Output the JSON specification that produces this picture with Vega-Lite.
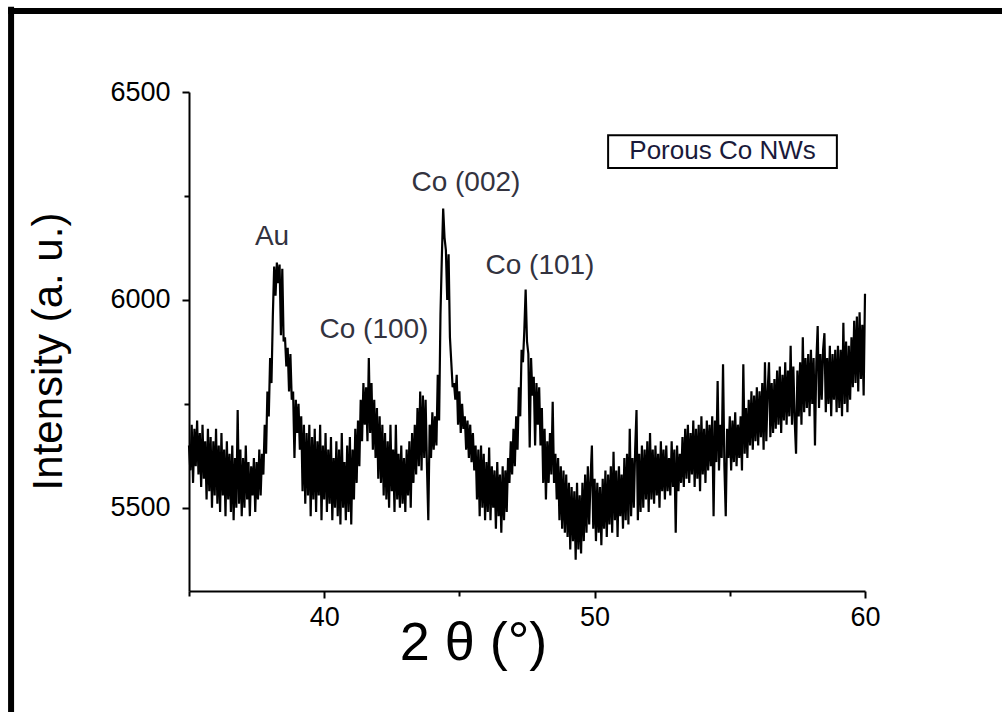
{
"$schema": "https://vega.github.io/schema/vega-lite/v6.json",
"width": 676, "height": 499,
"autosize": {"type": "none"},
"padding": {"left": 189, "top": 92, "right": 137, "bottom": 121},
"background": "white",
"config": {"view": {"stroke": null}, "font": "Liberation Sans"},
"datasets": {
"xrd": [
{"x":35.00,"y":5650},{"x":35.05,"y":5590},{"x":35.10,"y":5700},{"x":35.15,"y":5560},{"x":35.20,"y":5690},{"x":35.25,"y":5600},{"x":35.30,"y":5710},{"x":35.35,"y":5580},{"x":35.40,"y":5680},{"x":35.45,"y":5550},{"x":35.50,"y":5700},{"x":35.55,"y":5570},{"x":35.60,"y":5660},{"x":35.65,"y":5520},{"x":35.70,"y":5690},{"x":35.75,"y":5540},{"x":35.80,"y":5670},{"x":35.85,"y":5500},{"x":35.90,"y":5660},{"x":35.95,"y":5530},
{"x":36.00,"y":5690},{"x":36.05,"y":5510},{"x":36.10,"y":5650},{"x":36.15,"y":5490},{"x":36.20,"y":5680},{"x":36.25,"y":5530},{"x":36.30,"y":5640},{"x":36.35,"y":5480},{"x":36.40,"y":5660},{"x":36.45,"y":5520},{"x":36.50,"y":5630},{"x":36.55,"y":5490},{"x":36.60,"y":5650},{"x":36.65,"y":5470},{"x":36.70,"y":5620},{"x":36.75,"y":5500},{"x":36.80,"y":5735},{"x":36.85,"y":5510},{"x":36.90,"y":5640},{"x":36.95,"y":5480},
{"x":37.00,"y":5620},{"x":37.05,"y":5500},{"x":37.10,"y":5650},{"x":37.15,"y":5520},{"x":37.20,"y":5610},{"x":37.25,"y":5480},{"x":37.30,"y":5600},{"x":37.35,"y":5530},{"x":37.40,"y":5620},{"x":37.45,"y":5490},{"x":37.50,"y":5610},{"x":37.55,"y":5520},{"x":37.60,"y":5640},{"x":37.65,"y":5530},{"x":37.70,"y":5630},{"x":37.75,"y":5580},{"x":37.80,"y":5700},{"x":37.85,"y":5630},{"x":37.90,"y":5780},{"x":37.95,"y":5720},
{"x":38.00,"y":5860},{"x":38.05,"y":5800},{"x":38.10,"y":5960},{"x":38.15,"y":6080},{"x":38.20,"y":6010},{"x":38.25,"y":6090},{"x":38.30,"y":6040},{"x":38.35,"y":6085},{"x":38.40,"y":5915},{"x":38.45,"y":6075},{"x":38.50,"y":5900},{"x":38.55,"y":5910},{"x":38.60,"y":5840},{"x":38.65,"y":5885},{"x":38.70,"y":5780},{"x":38.75,"y":5870},{"x":38.80,"y":5760},{"x":38.85,"y":5780},{"x":38.90,"y":5620},{"x":38.95,"y":5760},
{"x":39.00,"y":5680},{"x":39.05,"y":5750},{"x":39.10,"y":5640},{"x":39.15,"y":5720},{"x":39.20,"y":5540},{"x":39.25,"y":5700},{"x":39.30,"y":5510},{"x":39.35,"y":5680},{"x":39.40,"y":5530},{"x":39.45,"y":5700},{"x":39.50,"y":5480},{"x":39.55,"y":5670},{"x":39.60,"y":5520},{"x":39.65,"y":5690},{"x":39.70,"y":5490},{"x":39.75,"y":5660},{"x":39.80,"y":5530},{"x":39.85,"y":5700},{"x":39.90,"y":5470},{"x":39.95,"y":5650},
{"x":40.00,"y":5520},{"x":40.05,"y":5680},{"x":40.10,"y":5490},{"x":40.15,"y":5640},{"x":40.20,"y":5510},{"x":40.25,"y":5670},{"x":40.30,"y":5470},{"x":40.35,"y":5620},{"x":40.40,"y":5500},{"x":40.45,"y":5660},{"x":40.50,"y":5480},{"x":40.55,"y":5640},{"x":40.60,"y":5460},{"x":40.65,"y":5680},{"x":40.70,"y":5500},{"x":40.75,"y":5610},{"x":40.80,"y":5470},{"x":40.85,"y":5650},{"x":40.90,"y":5490},{"x":40.95,"y":5670},
{"x":41.00,"y":5460},{"x":41.05,"y":5640},{"x":41.10,"y":5520},{"x":41.15,"y":5690},{"x":41.20,"y":5560},{"x":41.25,"y":5710},{"x":41.30,"y":5600},{"x":41.35,"y":5760},{"x":41.40,"y":5660},{"x":41.45,"y":5800},{"x":41.50,"y":5700},{"x":41.55,"y":5790},{"x":41.60,"y":5660},{"x":41.65,"y":5860},{"x":41.70,"y":5680},{"x":41.75,"y":5800},{"x":41.80,"y":5640},{"x":41.85,"y":5760},{"x":41.90,"y":5620},{"x":41.95,"y":5740},
{"x":42.00,"y":5570},{"x":42.05,"y":5720},{"x":42.10,"y":5560},{"x":42.15,"y":5700},{"x":42.20,"y":5530},{"x":42.25,"y":5680},{"x":42.30,"y":5520},{"x":42.35,"y":5660},{"x":42.40,"y":5500},{"x":42.45,"y":5700},{"x":42.50,"y":5540},{"x":42.55,"y":5640},{"x":42.60,"y":5490},{"x":42.65,"y":5700},{"x":42.70,"y":5520},{"x":42.75,"y":5630},{"x":42.80,"y":5500},{"x":42.85,"y":5650},{"x":42.90,"y":5510},{"x":42.95,"y":5620},
{"x":43.00,"y":5490},{"x":43.05,"y":5640},{"x":43.10,"y":5530},{"x":43.15,"y":5660},{"x":43.20,"y":5500},{"x":43.25,"y":5680},{"x":43.30,"y":5560},{"x":43.35,"y":5700},{"x":43.40,"y":5580},{"x":43.45,"y":5740},{"x":43.50,"y":5600},{"x":43.55,"y":5780},{"x":43.60,"y":5590},{"x":43.65,"y":5770},{"x":43.70,"y":5620},{"x":43.75,"y":5760},{"x":43.80,"y":5600},{"x":43.85,"y":5470},{"x":43.90,"y":5700},{"x":43.95,"y":5620},
{"x":44.00,"y":5730},{"x":44.05,"y":5640},{"x":44.10,"y":5720},{"x":44.15,"y":5650},{"x":44.20,"y":5820},{"x":44.25,"y":5710},{"x":44.30,"y":5965},{"x":44.35,"y":6100},{"x":44.40,"y":6220},{"x":44.45,"y":6150},{"x":44.50,"y":6120},{"x":44.55,"y":6000},{"x":44.60,"y":6110},{"x":44.65,"y":5910},{"x":44.70,"y":5850},{"x":44.75,"y":5790},{"x":44.80,"y":5800},{"x":44.85,"y":5760},{"x":44.90,"y":5820},{"x":44.95,"y":5700},
{"x":45.00,"y":5780},{"x":45.05,"y":5680},{"x":45.10,"y":5750},{"x":45.15,"y":5690},{"x":45.20,"y":5720},{"x":45.25,"y":5640},{"x":45.30,"y":5710},{"x":45.35,"y":5620},{"x":45.40,"y":5700},{"x":45.45,"y":5610},{"x":45.50,"y":5680},{"x":45.55,"y":5590},{"x":45.60,"y":5650},{"x":45.65,"y":5520},{"x":45.70,"y":5640},{"x":45.75,"y":5480},{"x":45.80,"y":5650},{"x":45.85,"y":5500},{"x":45.90,"y":5630},{"x":45.95,"y":5470},
{"x":46.00,"y":5610},{"x":46.05,"y":5490},{"x":46.10,"y":5645},{"x":46.15,"y":5470},{"x":46.20,"y":5600},{"x":46.25,"y":5500},{"x":46.30,"y":5590},{"x":46.35,"y":5450},{"x":46.40,"y":5610},{"x":46.45,"y":5480},{"x":46.50,"y":5580},{"x":46.55,"y":5440},{"x":46.60,"y":5600},{"x":46.65,"y":5470},{"x":46.70,"y":5590},{"x":46.75,"y":5490},{"x":46.80,"y":5620},{"x":46.85,"y":5560},{"x":46.90,"y":5660},{"x":46.95,"y":5580},
{"x":47.00,"y":5690},{"x":47.05,"y":5600},{"x":47.10,"y":5720},{"x":47.15,"y":5640},{"x":47.20,"y":5790},{"x":47.25,"y":5720},{"x":47.30,"y":5880},{"x":47.35,"y":5850},{"x":47.40,"y":5925},{"x":47.45,"y":6025},{"x":47.50,"y":5900},{"x":47.55,"y":5870},{"x":47.60,"y":5645},{"x":47.65,"y":5860},{"x":47.70,"y":5770},{"x":47.75,"y":5815},{"x":47.80,"y":5650},{"x":47.85,"y":5800},{"x":47.90,"y":5700},{"x":47.95,"y":5790},
{"x":48.00,"y":5650},{"x":48.05,"y":5740},{"x":48.10,"y":5560},{"x":48.15,"y":5690},{"x":48.20,"y":5520},{"x":48.25,"y":5660},{"x":48.30,"y":5560},{"x":48.35,"y":5680},{"x":48.40,"y":5580},{"x":48.45,"y":5755},{"x":48.50,"y":5560},{"x":48.55,"y":5630},{"x":48.60,"y":5520},{"x":48.65,"y":5620},{"x":48.70,"y":5470},{"x":48.75,"y":5600},{"x":48.80,"y":5450},{"x":48.85,"y":5590},{"x":48.90,"y":5440},{"x":48.95,"y":5580},
{"x":49.00,"y":5430},{"x":49.05,"y":5560},{"x":49.10,"y":5400},{"x":49.15,"y":5550},{"x":49.20,"y":5420},{"x":49.25,"y":5540},{"x":49.30,"y":5375},{"x":49.35,"y":5560},{"x":49.40,"y":5400},{"x":49.45,"y":5530},{"x":49.50,"y":5390},{"x":49.55,"y":5560},{"x":49.60,"y":5420},{"x":49.65,"y":5580},{"x":49.70,"y":5440},{"x":49.75,"y":5600},{"x":49.80,"y":5460},{"x":49.85,"y":5570},{"x":49.90,"y":5650},{"x":49.95,"y":5450},
{"x":50.00,"y":5570},{"x":50.05,"y":5420},{"x":50.10,"y":5560},{"x":50.15,"y":5440},{"x":50.20,"y":5550},{"x":50.25,"y":5410},{"x":50.30,"y":5570},{"x":50.35,"y":5450},{"x":50.40,"y":5590},{"x":50.45,"y":5430},{"x":50.50,"y":5580},{"x":50.55,"y":5460},{"x":50.60,"y":5600},{"x":50.65,"y":5440},{"x":50.70,"y":5635},{"x":50.75,"y":5470},{"x":50.80,"y":5590},{"x":50.85,"y":5430},{"x":50.90,"y":5600},{"x":50.95,"y":5480},
{"x":51.00,"y":5580},{"x":51.05,"y":5450},{"x":51.10,"y":5620},{"x":51.15,"y":5470},{"x":51.20,"y":5630},{"x":51.25,"y":5460},{"x":51.30,"y":5690},{"x":51.35,"y":5480},{"x":51.40,"y":5620},{"x":51.45,"y":5500},{"x":51.50,"y":5640},{"x":51.55,"y":5735},{"x":51.60,"y":5470},{"x":51.65,"y":5630},{"x":51.70,"y":5490},{"x":51.75,"y":5650},{"x":51.80,"y":5500},{"x":51.85,"y":5640},{"x":51.90,"y":5520},{"x":51.95,"y":5660},
{"x":52.00,"y":5490},{"x":52.05,"y":5680},{"x":52.10,"y":5520},{"x":52.15,"y":5640},{"x":52.20,"y":5510},{"x":52.25,"y":5650},{"x":52.30,"y":5530},{"x":52.35,"y":5630},{"x":52.40,"y":5500},{"x":52.45,"y":5660},{"x":52.50,"y":5540},{"x":52.55,"y":5640},{"x":52.60,"y":5520},{"x":52.65,"y":5650},{"x":52.70,"y":5540},{"x":52.75,"y":5620},{"x":52.80,"y":5530},{"x":52.85,"y":5660},{"x":52.90,"y":5550},{"x":52.95,"y":5640},
{"x":53.00,"y":5440},{"x":53.05,"y":5650},{"x":53.10,"y":5540},{"x":53.15,"y":5630},{"x":53.20,"y":5560},{"x":53.25,"y":5670},{"x":53.30,"y":5550},{"x":53.35,"y":5690},{"x":53.40,"y":5570},{"x":53.45,"y":5700},{"x":53.50,"y":5560},{"x":53.55,"y":5680},{"x":53.60,"y":5580},{"x":53.65,"y":5710},{"x":53.70,"y":5550},{"x":53.75,"y":5690},{"x":53.80,"y":5570},{"x":53.85,"y":5700},{"x":53.90,"y":5540},{"x":53.95,"y":5720},
{"x":54.00,"y":5580},{"x":54.05,"y":5690},{"x":54.10,"y":5560},{"x":54.15,"y":5710},{"x":54.20,"y":5590},{"x":54.25,"y":5700},{"x":54.30,"y":5600},{"x":54.35,"y":5720},{"x":54.40,"y":5480},{"x":54.45,"y":5710},{"x":54.50,"y":5610},{"x":54.55,"y":5805},{"x":54.60,"y":5590},{"x":54.65,"y":5700},{"x":54.70,"y":5620},{"x":54.75,"y":5845},{"x":54.80,"y":5600},{"x":54.85,"y":5480},{"x":54.90,"y":5690},{"x":54.95,"y":5620},
{"x":55.00,"y":5720},{"x":55.05,"y":5590},{"x":55.10,"y":5710},{"x":55.15,"y":5610},{"x":55.20,"y":5730},{"x":55.25,"y":5600},{"x":55.30,"y":5700},{"x":55.35,"y":5620},{"x":55.40,"y":5720},{"x":55.45,"y":5590},{"x":55.50,"y":5845},{"x":55.55,"y":5630},{"x":55.60,"y":5740},{"x":55.65,"y":5620},{"x":55.70,"y":5760},{"x":55.75,"y":5650},{"x":55.80,"y":5780},{"x":55.85,"y":5640},{"x":55.90,"y":5770},{"x":55.95,"y":5660},
{"x":56.00,"y":5790},{"x":56.05,"y":5650},{"x":56.10,"y":5780},{"x":56.15,"y":5670},{"x":56.20,"y":5800},{"x":56.25,"y":5640},{"x":56.30,"y":5850},{"x":56.35,"y":5660},{"x":56.40,"y":5780},{"x":56.45,"y":5850},{"x":56.50,"y":5670},{"x":56.55,"y":5800},{"x":56.60,"y":5680},{"x":56.65,"y":5810},{"x":56.70,"y":5690},{"x":56.75,"y":5830},{"x":56.80,"y":5700},{"x":56.85,"y":5840},{"x":56.90,"y":5680},{"x":56.95,"y":5820},
{"x":57.00,"y":5710},{"x":57.05,"y":5850},{"x":57.10,"y":5700},{"x":57.15,"y":5830},{"x":57.20,"y":5720},{"x":57.25,"y":5890},{"x":57.30,"y":5700},{"x":57.35,"y":5840},{"x":57.40,"y":5710},{"x":57.45,"y":5630},{"x":57.50,"y":5830},{"x":57.55,"y":5720},{"x":57.60,"y":5850},{"x":57.65,"y":5700},{"x":57.70,"y":5910},{"x":57.75,"y":5730},{"x":57.80,"y":5860},{"x":57.85,"y":5740},{"x":57.90,"y":5870},{"x":57.95,"y":5720},
{"x":58.00,"y":5880},{"x":58.05,"y":5750},{"x":58.10,"y":5860},{"x":58.15,"y":5650},{"x":58.20,"y":5850},{"x":58.25,"y":5937},{"x":58.30,"y":5740},{"x":58.35,"y":5870},{"x":58.40,"y":5760},{"x":58.45,"y":5880},{"x":58.50,"y":5920},{"x":58.55,"y":5730},{"x":58.60,"y":5860},{"x":58.65,"y":5750},{"x":58.70,"y":5890},{"x":58.75,"y":5720},{"x":58.80,"y":5870},{"x":58.85,"y":5760},{"x":58.90,"y":5880},{"x":58.95,"y":5730},
{"x":59.00,"y":5890},{"x":59.05,"y":5740},{"x":59.10,"y":5880},{"x":59.15,"y":5720},{"x":59.20,"y":5945},{"x":59.25,"y":5750},{"x":59.30,"y":5900},{"x":59.35,"y":5730},{"x":59.40,"y":5890},{"x":59.45,"y":5760},{"x":59.50,"y":5910},{"x":59.55,"y":5790},{"x":59.60,"y":5950},{"x":59.65,"y":5800},{"x":59.70,"y":5960},{"x":59.75,"y":5780},{"x":59.80,"y":5970},{"x":59.85,"y":5810},{"x":59.90,"y":5940},{"x":59.95,"y":5770},
{"x":60.00,"y":6015}
],
"peaks": [
{"label":"Au","x":38.07,"y":6151},
{"label":"Co (100)","x":41.84,"y":5928},
{"label":"Co (002)","x":45.24,"y":6281},
{"label":"Co (101)","x":47.98,"y":6082}
],
"legendbox": [{"label":"Porous Co NWs","x":54.73,"y":6358}]
},
"layer": [
{
"data": {"name": "legendbox"},
"mark": {"type": "rule", "color": "black", "strokeWidth": 6},
"encoding": {"x": {"datum": 28.42, "type": "quantitative"}, "y": {"datum": 6705, "type": "quantitative"}, "y2": {"datum": 4900}}
},
{
"data": {"name": "legendbox"},
"mark": {"type": "rule", "color": "black", "strokeWidth": 6},
"encoding": {"x": {"datum": 28.31, "type": "quantitative"}, "x2": {"datum": 66}, "y": {"datum": 6695, "type": "quantitative"}}
},
{
"data": {"name": "xrd"},
"mark": {"type": "line", "color": "black", "strokeWidth": 2.2, "interpolate": "linear"},
"encoding": {
"x": {"field": "x", "type": "quantitative",
 "scale": {"domain": [35, 60], "nice": false, "zero": false},
 "axis": {"values": [35, 40, 45, 50, 55, 60], "format": "d",
  "labelExpr": "datum.value % 10 === 0 ? datum.label : ''",
  "title": "2 θ (°)", "titleFontSize": 54, "titleFontWeight": "normal", "titleColor": "black",
  "titleX": 284, "titleY": 68, "titleBaseline": "alphabetic", "titleAlign": "center",
  "labelFontSize": 27, "labelColor": "black", "labelPadding": 6, "labelFlush": false, "labelOverlap": false,
  "tickSize": {"condition": {"test": "datum.value % 10 !== 0", "value": 5}, "value": 7},
  "tickWidth": 2, "tickColor": "black", "domainColor": "black", "domainWidth": 2, "grid": false}},
"y": {"field": "y", "type": "quantitative",
 "scale": {"domain": [5300, 6500], "nice": false, "zero": false},
 "axis": {"values": [5500, 5750, 6000, 6250, 6500], "format": "d",
  "labelExpr": "datum.value % 500 === 0 ? datum.label : ''",
  "title": "Intensity (a. u.)", "titleFontSize": 42, "titleFontWeight": "normal", "titleColor": "black",
  "titleX": -128, "titleY": 259, "titleBaseline": "alphabetic", "titleAlign": "center", "titleAngle": -90,
  "labelFontSize": 27, "labelColor": "black", "labelPadding": 12, "labelFlush": false, "labelOverlap": false,
  "tickSize": {"condition": {"test": "datum.value % 500 !== 0", "value": 5}, "value": 7},
  "tickWidth": 2, "tickColor": "black", "domainColor": "black", "domainWidth": 2, "grid": false}}
}
},
{
"data": {"name": "peaks"},
"mark": {"type": "text", "fontSize": 28, "color": "#33333f", "align": "center", "baseline": "middle"},
"encoding": {"x": {"field": "x", "type": "quantitative"}, "y": {"field": "y", "type": "quantitative"}, "text": {"field": "label"}}
},
{
"data": {"name": "legendbox"},
"mark": {"type": "rect", "fill": "white", "stroke": "black", "strokeWidth": 2},
"encoding": {"x": {"datum": 50.5, "type": "quantitative"}, "x2": {"datum": 58.96}, "y": {"datum": 6396, "type": "quantitative"}, "y2": {"datum": 6317}}
},
{
"data": {"name": "legendbox"},
"mark": {"type": "text", "fontSize": 26, "color": "#1a1a3a", "align": "center", "baseline": "middle"},
"encoding": {"x": {"field": "x", "type": "quantitative"}, "y": {"field": "y", "type": "quantitative"}, "text": {"field": "label"}}
}
]
}
